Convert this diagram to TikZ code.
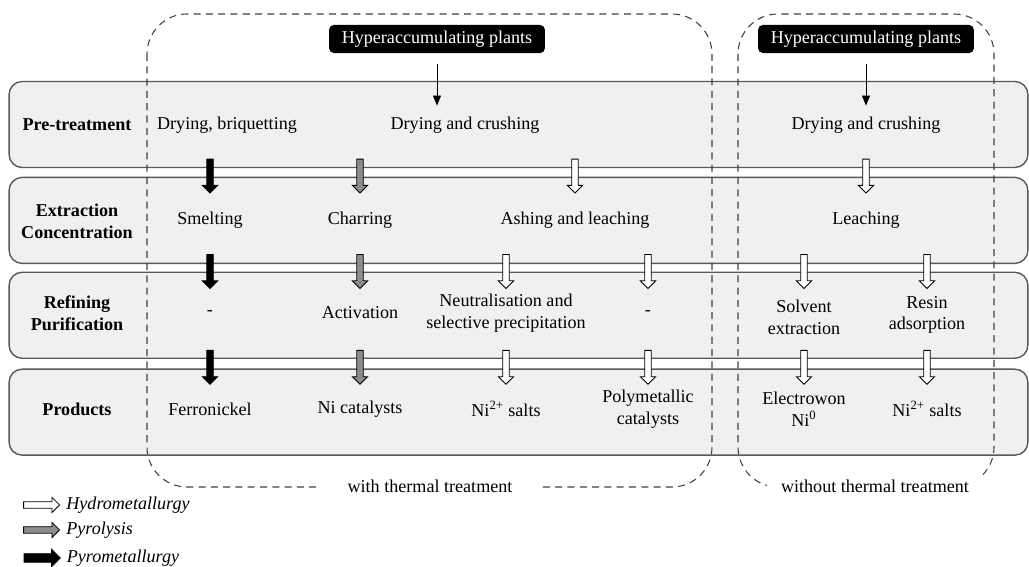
\documentclass[tikz,border=0pt]{standalone}
\usepackage{fontspec}
\setmainfont{Liberation Serif}
\usetikzlibrary{arrows.meta,shapes.arrows,positioning,calc}
\newcommand{\figfont}{\fontsize{10.3}{12.4}\selectfont}
\tikzset{
	stage/.style={
		rectangle, minimum width=20.38cm, minimum height=1.72cm, rounded corners=2.6mm,
		draw=black!65, line width=0.8pt, fill=black!6
	},
	%
	stagelabel/.style={
		align=center, font=\figfont\bfseries
	},
	%
	steptext/.style={
		align=center, font=\figfont
	},
	%
	plants/.style={
		rectangle, rounded corners=1mm, fill=black, text=white,
		minimum width=4.32cm, minimum height=0.56cm, font=\figfont
	},
	%
	routebox/.style={
		draw=black!75, line width=0.6pt, dash pattern=on 4pt off 3pt, rounded corners=8mm
	},
	%
	routelabel/.style={
		fill=white, inner ysep=1pt, font=\figfont
	},
	%
	flow/.style={
		single arrow, draw=black, line width=0.5pt, inner sep=1.6pt,
		minimum height=0.68cm, single arrow head extend=2.5pt, shape border rotate=270
	},
	hydroflow/.style={flow, fill=white},
	pyrolysisflow/.style={flow, fill=black!45},
	pyroflow/.style={flow, fill=black},
	%
	feed/.style={
		-{Triangle[length=2mm, width=1.6mm]}, line width=0.5pt
	},
	%
	legendtext/.style={
		font=\figfont\itshape, inner sep=1pt
	}
}

\begin{document}
\begin{tikzpicture}[x=0.02cm, y=-0.02cm]
\useasboundingbox (0,0) rectangle (1029,567);
% stages
\node(pre)[stage] at (518.5,124.5) {};
\node(ext)[stage, below=0.17cm of pre] {};
\node(ref)[stage, below=0.15cm of ext] {};
\node(prod)[stage, below=0.19cm of ref] {};
\node(prelbl)[stagelabel] at (77,125) {Pre-treatment};
\node(extlbl)[stagelabel] at (77,221) {Extraction\\Concentration};
\node(reflbl)[stagelabel] at (77,313) {Refining\\Purification};
\node(prodlbl)[stagelabel] at (77,409) {Products};

% sources
\node(plantsA)[plants] at (437,39) {Hyperaccumulating plants};
\node(plantsB)[plants] at (866,39) {Hyperaccumulating plants};

% steps
\node(dryb)[steptext] at (227,125) {Drying, briquetting};
\node(drycA)[steptext] at (465,125) {Drying and crushing};
\node(drycB)[steptext] at (866,125) {Drying and crushing};
\node(smelt)[steptext] at (210,220) {Smelting};
\node(char)[steptext] at (360,220) {Charring};
\node(ash)[steptext] at (575,220) {Ashing and leaching};
\node(leach)[steptext] at (866,220) {Leaching};
\node(noneA)[steptext] at (210,313) {-};
\node(activ)[steptext] at (360,313) {Activation};
\node(neutr)[steptext] at (506,313) {Neutralisation and\\selective precipitation};
\node(noneB)[steptext] at (648,313) {-};
\node(solv)[steptext] at (804,317) {Solvent\\extraction};
\node(resin)[steptext] at (927,315) {Resin\\adsorption};
\node(fenick)[steptext] at (210,409) {Ferronickel};
\node(nicat)[steptext] at (360,409) {Ni catalysts};
\node(saltsA)[steptext] at (506,409) {Ni\textsuperscript{2+} salts};
\node(poly)[steptext] at (648,409) {Polymetallic\\catalysts};
\node(electro)[steptext] at (804,409) {Electrowon\\Ni\textsuperscript{0}};
\node(saltsB)[steptext] at (927,409) {Ni\textsuperscript{2+} salts};

\draw[feed, shorten <=0.22cm, shorten >=0.1cm] (plantsA) -- (plantsA |- drycA.north);
\draw[feed, shorten <=0.22cm, shorten >=0.1cm] (plantsB) -- (drycB);

% flows between stages
\coordinate (gapA) at ($(pre.south)!.5!(ext.north)+(0,2)$);
\coordinate (gapB) at ($(ext.south)!.5!(ref.north)+(0,2)$);
\coordinate (gapC) at ($(ref.south)!.5!(prod.north)+(0,2)$);
\node(pyA)[pyroflow] at (smelt |- gapA) {};
\node(plA)[pyrolysisflow] at (char |- gapA) {};
\node(hyA)[hydroflow] at (ash |- gapA) {};
\node(hyB)[hydroflow] at (leach |- gapA) {};
\node(pyC)[pyroflow] at (smelt |- gapB) {};
\node(plC)[pyrolysisflow] at (char |- gapB) {};
\node(hyC)[hydroflow] at (neutr |- gapB) {};
\node(hyD)[hydroflow] at (noneB |- gapB) {};
\node(hyE)[hydroflow] at (solv |- gapB) {};
\node(hyF)[hydroflow] at (resin |- gapB) {};
\node(pyG)[pyroflow] at (noneA |- gapC) {};
\node(plG)[pyrolysisflow] at (activ |- gapC) {};
\node(hyG)[hydroflow] at (neutr |- gapC) {};
\node(hyH)[hydroflow] at (noneB |- gapC) {};
\node(hyI)[hydroflow] at (solv |- gapC) {};
\node(hyJ)[hydroflow] at (resin |- gapC) {};

% thermal / non thermal routes
\draw[routebox] (147,14) rectangle (712,487);
\draw[routebox] (738,14) rectangle (994,487);
\node(thermal)[routelabel, inner xsep=15pt] at (430,486) {with thermal treatment};
\node(nothermal)[routelabel, inner xsep=8pt] at (875,486) {without thermal treatment};

% legend
\node(keyhydro)[hydroflow, shape border rotate=0, minimum height=0.72cm] at (40,505) {};
\node[legendtext, right=0.08cm of keyhydro] {Hydrometallurgy};
\node(keypyrol)[pyrolysisflow, shape border rotate=0, minimum height=0.72cm] at (40,530) {};
\node[legendtext, right=0.08cm of keypyrol] {Pyrolysis};
\node(keypyro)[pyroflow, shape border rotate=0, minimum height=0.72cm, inner sep=2.2pt] at (40,558) {};
\node[legendtext, right=0.08cm of keypyro] {Pyrometallurgy};
\end{tikzpicture}
\end{document}
